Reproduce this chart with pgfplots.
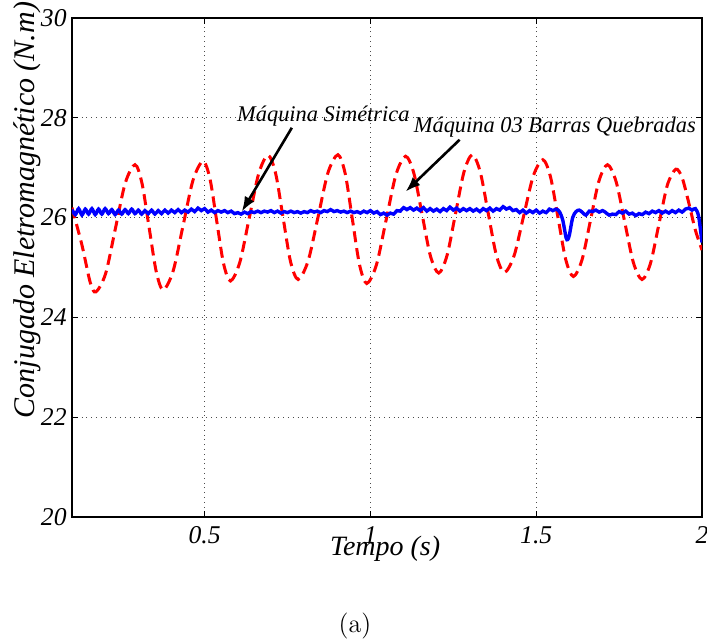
\documentclass[border=0pt]{standalone}
\usepackage{fontspec}
\usepackage{pgfplots}
\pgfplotsset{compat=1.18}
\usetikzlibrary{arrows.meta}
\newfontfamily\tnr{Liberation Serif}

\pgfplotstableread{
x y
0.100 26.20
0.130 25.45
0.155 24.70
0.172 24.51
0.2015 24.88
0.231 25.785
0.2605 26.69
0.290 27.06
0.311 26.69
0.3325 25.805
0.354 24.92
0.375 24.55
0.405 24.93
0.435 25.84
0.465 26.75
0.495 27.13
0.516 26.78
0.5365 25.93
0.557 25.08
0.578 24.73
0.606 25.10
0.6345 25.99
0.663 26.88
0.691 27.25
0.714 26.89
0.7365 26.005
0.759 25.12
0.782 24.76
0.812 25.13
0.842 26.01
0.872 26.90
0.902 27.26
0.924 26.88
0.9455 25.97
0.967 25.06
0.989 24.68
1.018 25.05
1.0475 25.955
1.077 26.86
1.106 27.23
1.131 26.89
1.156 26.06
1.181 25.23
1.206 24.89
1.231 25.24
1.2565 26.075
1.282 26.91
1.307 27.26
1.331 26.92
1.3555 26.08
1.380 25.24
1.404 24.90
1.433 25.23
1.462 26.03
1.491 26.83
1.520 27.16
1.543 26.82
1.566 25.99
1.589 25.16
1.612 24.82
1.638 25.15
1.6635 25.94
1.689 26.73
1.715 27.06
1.741 26.72
1.767 25.91
1.793 25.10
1.819 24.76
1.8445 25.08
1.870 25.865
1.8955 26.65
1.921 26.97
1.940 26.80
1.960 26.30
1.980 25.75
2.000 25.35
}\quebradas

\pgfplotstableread{
x y
0.10 26.16
0.11 26.06
0.12 26.18
0.13 26.05
0.14 26.17
0.15 26.07
0.16 26.18
0.17 26.06
0.18 26.17
0.19 26.07
0.20 26.18
0.21 26.08
0.22 26.16
0.23 26.06
0.24 26.15
0.25 26.07
0.26 26.16
0.27 26.08
0.28 26.17
0.29 26.08
0.30 26.15
0.31 26.07
0.32 26.14
0.33 26.08
0.34 26.15
0.35 26.07
0.36 26.14
0.37 26.08
0.38 26.15
0.39 26.09
0.40 26.15
0.41 26.10
0.42 26.16
0.43 26.10
0.44 26.15
0.45 26.11
0.46 26.17
0.47 26.12
0.48 26.19
0.49 26.14
0.50 26.18
0.51 26.11
0.52 26.15
0.53 26.10
0.54 26.14
0.55 26.11
0.56 26.14
0.57 26.10
0.58 26.13
0.59 26.08
0.60 26.10
0.61 26.07
0.62 26.11
0.63 26.08
0.64 26.12
0.65 26.10
0.66 26.13
0.67 26.10
0.68 26.13
0.69 26.11
0.70 26.14
0.71 26.10
0.72 26.13
0.73 26.09
0.74 26.12
0.75 26.10
0.76 26.13
0.77 26.10
0.78 26.12
0.79 26.09
0.80 26.12
0.81 26.10
0.82 26.14
0.83 26.11
0.84 26.13
0.85 26.10
0.86 26.14
0.87 26.12
0.88 26.16
0.89 26.12
0.90 26.14
0.91 26.11
0.92 26.13
0.93 26.10
0.94 26.13
0.95 26.10
0.96 26.12
0.97 26.09
0.98 26.13
0.99 26.10
1.00 26.14
1.01 26.09
1.02 26.12
1.03 26.06
1.04 26.09
1.05 26.05
1.06 26.09
1.07 26.07
1.08 26.14
1.09 26.13
1.10 26.20
1.11 26.16
1.12 26.20
1.13 26.15
1.14 26.19
1.15 26.14
1.16 26.20
1.17 26.13
1.18 26.18
1.19 26.13
1.20 26.17
1.21 26.12
1.22 26.18
1.23 26.14
1.24 26.21
1.25 26.15
1.26 26.19
1.27 26.13
1.28 26.18
1.29 26.14
1.30 26.18
1.31 26.13
1.32 26.17
1.33 26.12
1.34 26.18
1.35 26.14
1.36 26.19
1.37 26.13
1.38 26.18
1.39 26.15
1.40 26.22
1.41 26.17
1.42 26.20
1.43 26.14
1.44 26.16
1.45 26.10
1.46 26.15
1.47 26.09
1.48 26.14
1.49 26.10
1.50 26.15
1.51 26.09
1.52 26.13
1.53 26.10
1.54 26.17
1.55 26.14
1.56 26.17
1.57 26.12
1.58 25.95
1.59 25.60
1.595 25.56
1.60 25.65
1.61 26.00
1.62 26.12
1.63 26.15
1.64 26.10
1.65 26.05
1.66 26.13
1.67 26.12
1.68 26.15
1.69 26.11
1.70 26.14
1.71 26.10
1.72 26.05
1.73 26.07
1.74 26.06
1.75 26.12
1.76 26.09
1.77 26.13
1.78 26.07
1.79 26.09
1.80 26.04
1.81 26.08
1.82 26.06
1.83 26.11
1.84 26.08
1.85 26.13
1.86 26.10
1.87 26.14
1.88 26.09
1.89 26.13
1.90 26.09
1.91 26.14
1.92 26.10
1.93 26.15
1.94 26.11
1.95 26.17
1.96 26.19
1.97 26.15
1.98 26.18
1.99 26.02
2.00 25.50
}\simetrica

\begin{document}
\begin{tikzpicture}
\path[use as bounding box] (-36pt,-61pt) rectangle (317.5pt,258.5pt);
\begin{axis}[
  scale only axis, width=315pt, height=249.5pt,
  xmin=0.1, xmax=2, ymin=20, ymax=30,
  xtick={0.5,1,1.5,2}, ytick={20,22,24,26,28,30},
  xticklabels={\textit{0.5},\textit{1},\textit{1.5},\textit{2}},
  yticklabels={\textit{20},\textit{22},\textit{24},\textit{26},\textit{28},\textit{30}},
  grid=major,
  major grid style={dotted, black!70, line width=0.5pt},
  tick align=inside, major tick length=3pt,
  tick style={black, line width=0.5pt},
  axis line style={black, line width=0.8pt},
  /pgf/number format/assume math mode=true,
  ticklabel style={font=\tnr\itshape\fontsize{12.8}{15}\selectfont},
  xticklabel style={anchor=base, yshift=-13pt},
  yticklabel style={anchor=east, inner sep=0pt, xshift=-2.5pt},
  xlabel={Tempo (s)},
  xlabel style={font=\tnr\itshape\fontsize{14}{16}\selectfont, at={(axis description cs:0.497,0)}, anchor=base, yshift=-19pt},
  ylabel={Conjugado Eletromagnético (N.m)},
  ylabel style={font=\tnr\itshape\fontsize{15}{17}\selectfont, at={(axis description cs:-0.0714,0.615)}, anchor=center},
]
\addplot[red, line width=1.5pt, dash pattern=on 5.5pt off 3pt, smooth] table[x=x, y=y] {\quebradas};
\addplot[blue, line width=1.7pt, smooth] table[x=x, y=y] {\simetrica};
\node[anchor=base west, inner sep=0pt, font=\tnr\itshape\fontsize{11.2}{13}\selectfont] at (axis cs:0.597,27.926) {Máquina Simétrica};
\node[anchor=base west, inner sep=0pt, font=\tnr\itshape\fontsize{11.2}{13}\selectfont] at (axis cs:1.130,27.70) {Máquina 03 Barras Quebradas};
\draw[-{Latex[length=7.5pt,width=5.5pt]}, line width=1.3pt] (axis cs:0.763,27.8) -- (axis cs:0.612,26.12);
\draw[-{Latex[length=7.5pt,width=5.5pt]}, line width=1.3pt] (axis cs:1.269,27.56) -- (axis cs:1.106,26.52);
\end{axis}
\node[font=\fontsize{13}{15}\selectfont] at (141.5pt,-54.5pt) {(a)};
\end{tikzpicture}
\end{document}
